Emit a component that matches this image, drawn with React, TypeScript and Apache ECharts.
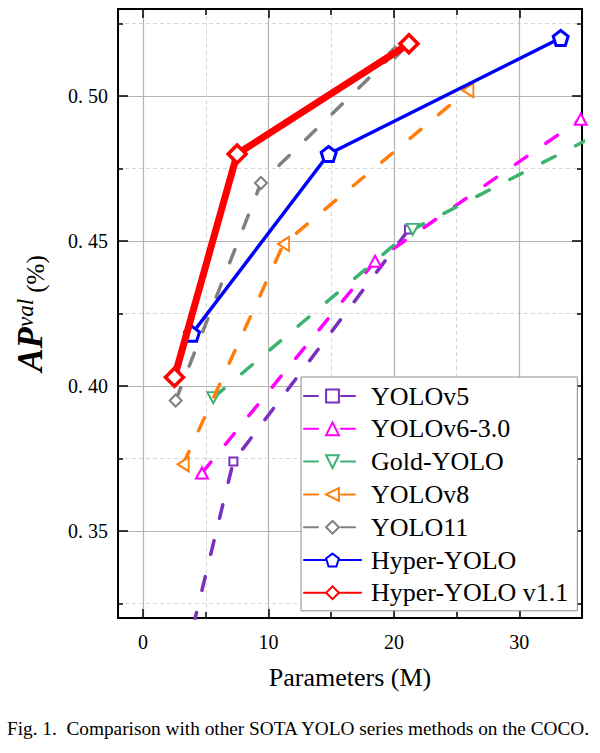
import React, { useEffect, useRef } from 'react';
import * as echarts from 'echarts';

// Parameters (M) and AP^val for each detector family
const yolov5Params = [1.9, 7.2, 21.2];
const yolov5AP = [0.28, 0.374, 0.454];
const yolov6Params = [4.7, 18.5, 34.9];
const yolov6AP = [0.37, 0.443, 0.492];
const goldYoloParams = [5.6, 21.5, 41.3];
const goldYoloAP = [0.396, 0.454, 0.498];
const yolov8Params = [3.2, 11.2, 25.9];
const yolov8AP = [0.373, 0.449, 0.502];
const yolo11Params = [2.6, 9.4, 20.1];
const yolo11AP = [0.395, 0.47, 0.515];
const hyperYoloParams = [3.9, 14.8, 33.3];
const hyperYoloAP = [0.418, 0.48, 0.52];
const hyperYoloV11Params = [2.5, 7.5, 21.2];
const hyperYoloV11AP = [0.403, 0.48, 0.518];

const methodNames = [
  'YOLOv5',
  'YOLOv6-3.0',
  'Gold-YOLO',
  'YOLOv8',
  'YOLO11',
  'Hyper-YOLO',
  'Hyper-YOLO v1.1',
];

// axis extents
const xRange = [-2, 35];
const yRange = [0.32, 0.53];

const SERIF = '"Liberation Serif", "Times New Roman", serif';
const PENTAGON = 'path://M0,-10L9.511,-3.09L5.878,8.09L-5.878,8.09L-9.511,-3.09Z';
const DASH = [14, 23];

type Look = {
  color: string;
  symbol: string;
  size: number | number[];
  rotate?: number;
  width: number;
  border: number;
  dashed: boolean;
};

const looks: Look[] = [
  { color: '#7b2fbe', symbol: 'rect', size: 8, width: 3.5, border: 2, dashed: true },
  { color: '#ff00ff', symbol: 'triangle', size: [12, 11], width: 3.5, border: 2, dashed: true },
  { color: '#3cb371', symbol: 'triangle', size: [12, 11], rotate: 180, width: 3.5, border: 2, dashed: true },
  { color: '#ff7f0e', symbol: 'triangle', size: [14, 11], rotate: 90, width: 3.5, border: 2, dashed: true },
  { color: '#808080', symbol: 'diamond', size: 12, width: 3.5, border: 2, dashed: true },
  { color: '#0000ff', symbol: PENTAGON, size: 15, width: 3.5, border: 3, dashed: false },
  { color: '#ff0000', symbol: 'diamond', size: 18, width: 7, border: 3.5, dashed: false },
];

const paramsList = [
  yolov5Params,
  yolov6Params,
  goldYoloParams,
  yolov8Params,
  yolo11Params,
  hyperYoloParams,
  hyperYoloV11Params,
];
const apList = [yolov5AP, yolov6AP, goldYoloAP, yolov8AP, yolo11AP, hyperYoloAP, hyperYoloV11AP];

const axisLineStyle = { color: '#000', width: 2 };

function buildOption(): echarts.EChartsCoreOption {
  const series = methodNames.map((name, i) => {
    const lk = looks[i];
    return {
      type: 'line',
      name,
      data: paramsList[i].map((x, j) => [x, apList[i][j]]),
      symbol: lk.symbol,
      symbolSize: lk.size,
      symbolRotate: lk.rotate ?? 0,
      showAllSymbol: true,
      clip: true,
      lineStyle: {
        color: lk.color,
        width: lk.width,
        type: lk.dashed ? DASH : 'solid',
        cap: 'round',
        join: 'round',
      },
      itemStyle: { color: '#ffffff', borderColor: lk.color, borderWidth: lk.border },
      emphasis: { disabled: true },
      z: 2 + i * 0.01,
    };
  });

  const xCommon = {
    type: 'value',
    min: xRange[0],
    max: xRange[1],
    axisLine: { show: true, onZero: false, lineStyle: axisLineStyle },
    axisTick: { show: true, inside: true, length: 9, lineStyle: { color: '#000', width: 1.5 } },
    minorTick: { show: true, splitNumber: 2, length: 6, lineStyle: { color: '#000', width: 1.5 } },
  };
  const yCommon = {
    type: 'value',
    min: yRange[0],
    max: yRange[1],
    axisLine: { show: true, onZero: false, lineStyle: axisLineStyle },
    axisTick: { show: true, inside: true, length: 10, lineStyle: { color: '#000', width: 1.5 } },
    minorTick: { show: true, splitNumber: 2, length: 5, lineStyle: { color: '#000', width: 1.5 } },
  };

  return {
    animation: false,
    backgroundColor: '#ffffff',
    grid: { left: 118, right: 18, top: 9, bottom: 135, containLabel: false },
    graphic: [
      {
        type: 'text',
        left: 7,
        top: 719,
        style: {
          text: 'Fig. 1.  Comparison with other SOTA YOLO series methods on the COCO.',
          font: `19.3px ${SERIF}`,
          fill: '#000',
        },
      },
    ],
    legend: {
      show: true,
      orient: 'vertical',
      left: 301,
      top: 377,
      align: 'left',
      padding: [5, 9, 4, 2],
      itemWidth: 57,
      itemHeight: 16,
      itemGap: 4.8,
      backgroundColor: '#ffffff',
      borderColor: '#8c8c8c',
      borderWidth: 1,
      borderRadius: 0,
      selectedMode: false,
      textStyle: {
        fontFamily: SERIF,
        fontSize: 26,
        lineHeight: 28,
        color: '#000',
        padding: [0, 0, 0, 5],
      },
      data: methodNames,
    },
    xAxis: [
      {
        ...xCommon,
        position: 'bottom',
        name: 'Parameters (M)',
        nameLocation: 'middle',
        nameGap: 46,
        nameTextStyle: { fontFamily: SERIF, fontSize: 26, color: '#000' },
        axisLabel: {
          show: true,
          margin: 14,
          fontFamily: SERIF,
          fontSize: 20,
          color: '#000',
          showMinLabel: false,
          showMaxLabel: false,
        },
        splitLine: { show: true, lineStyle: { color: '#b4b4b4', width: 1.2 } },
        minorSplitLine: { show: true, lineStyle: { color: '#d6d6d6', width: 1, type: [4, 3] } },
      },
      {
        ...xCommon,
        position: 'top',
        axisLabel: { show: false },
        splitLine: { show: false },
      },
    ],
    yAxis: [
      {
        ...yCommon,
        position: 'left',
        name: '{ap|AP}{sup|val}{pct| (%)}',
        nameLocation: 'middle',
        nameRotate: 90,
        nameGap: 70,
        nameTextStyle: {
          color: '#000',
          rich: {
            ap: {
              fontFamily: SERIF,
              fontSize: 35,
              fontStyle: 'italic',
              fontWeight: 'bold',
              lineHeight: 34,
              verticalAlign: 'bottom',
              color: '#000',
            },
            sup: {
              fontFamily: SERIF,
              fontSize: 23,
              fontStyle: 'italic',
              lineHeight: 22,
              verticalAlign: 'top',
              color: '#000',
            },
            pct: {
              fontFamily: SERIF,
              fontSize: 25,
              lineHeight: 25,
              verticalAlign: 'bottom',
              color: '#000',
            },
          },
        },
        axisLabel: {
          show: true,
          margin: 10,
          fontFamily: SERIF,
          fontSize: 20,
          color: '#000',
          showMinLabel: false,
          showMaxLabel: false,
          formatter: (v: number) => v.toFixed(2).replace('.', '. '),
        },
        splitLine: { show: true, lineStyle: { color: '#b4b4b4', width: 1.2 } },
        minorSplitLine: { show: true, lineStyle: { color: '#d6d6d6', width: 1, type: [4, 3] } },
      },
      {
        ...yCommon,
        position: 'right',
        axisLabel: { show: false },
        splitLine: { show: false },
      },
    ],
    series,
  };
}

export default function App() {
  const ref = useRef<HTMLDivElement>(null);
  useEffect(() => {
    if (!ref.current) return;
    const chart = echarts.init(ref.current, undefined, { renderer: 'svg' });
    chart.setOption(buildOption());
    return () => chart.dispose();
  }, []);
  return (
    <div
      ref={ref}
      style={{ position: 'fixed', left: 0, top: 0, width: 600, height: 753, background: '#fff' }}
    />
  );
}
